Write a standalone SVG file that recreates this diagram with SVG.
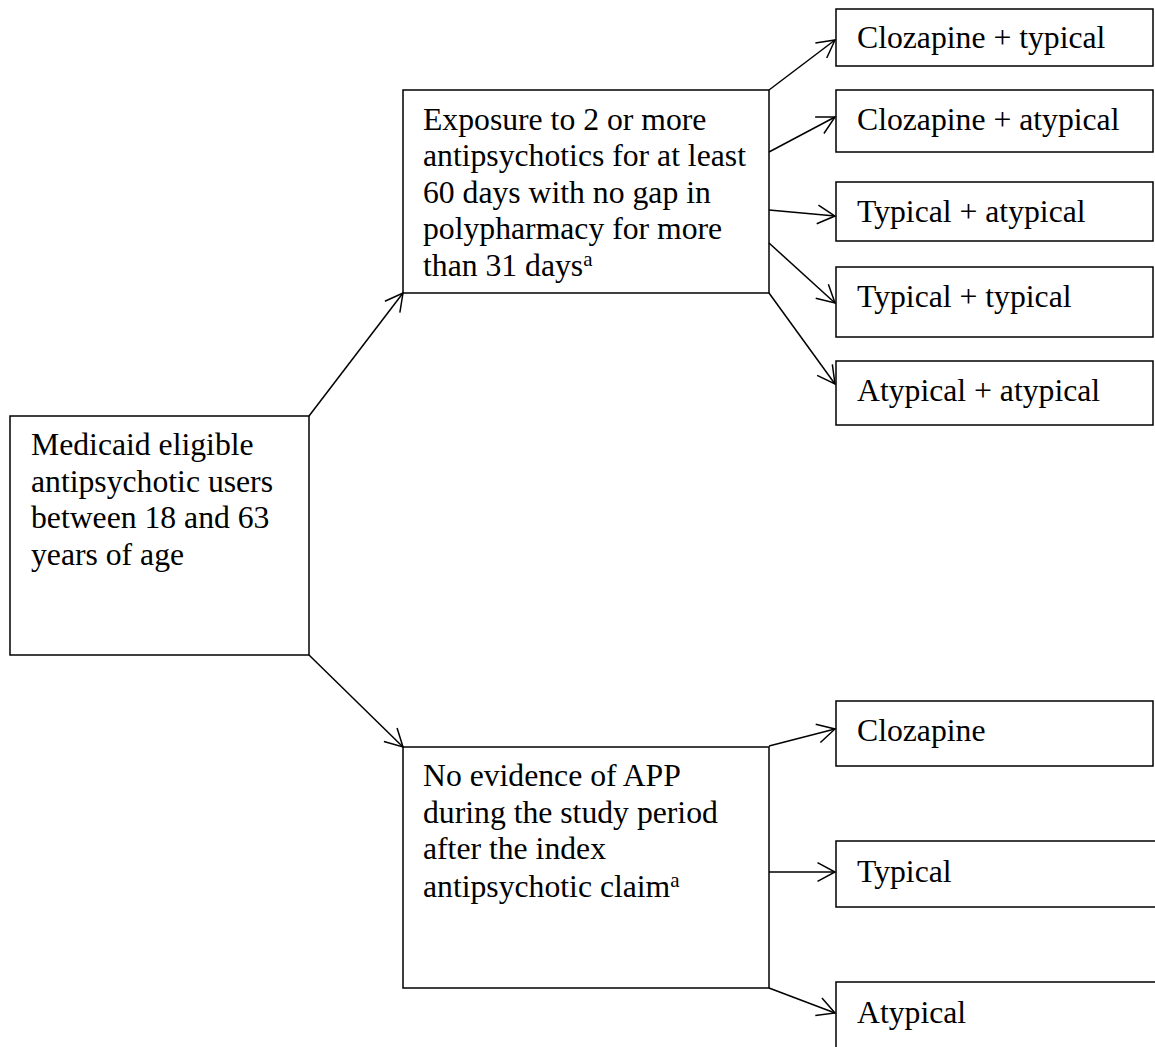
<svg xmlns="http://www.w3.org/2000/svg" width="1155" height="1047" viewBox="0 0 1155 1047">
<style>
  .box { fill: #fff; stroke: #000; stroke-width: 1.5; }
  .t { font-family: "Liberation Serif", "Times New Roman", serif; font-size: 31.7px; fill: #000; }
  .sup { font-size: 21px; }
  .conn line { stroke: #000; stroke-width: 1.5; fill: none; marker-end: url(#arr); }
</style>
<defs>
  <marker id="arr" markerUnits="userSpaceOnUse" markerWidth="30" markerHeight="30" refX="0" refY="0" viewBox="-20 -15 25 30" orient="auto" overflow="visible">
    <path d="M -17.5 -9.4 L 0 0 L -17.5 9.4" fill="none" stroke="#000" stroke-width="1.5"/>
  </marker>
</defs>
<rect width="1155" height="1047" fill="#fff"/>

<g id="n-root">
  <rect class="box" x="10" y="416" width="299" height="239"/>
  <text class="t" x="31" y="455">Medicaid eligible</text>
  <text class="t" x="31" y="492">antipsychotic users</text>
  <text class="t" x="31" y="528">between 18 and 63</text>
  <text class="t" x="31" y="565">years of age</text>
</g>

<g id="n-app">
  <rect class="box" x="403" y="90" width="366" height="203"/>
  <text class="t" x="423" y="130">Exposure to 2 or more</text>
  <text class="t" x="423" y="166">antipsychotics for at least</text>
  <text class="t" x="423" y="203">60 days with no gap in</text>
  <text class="t" x="423" y="239">polypharmacy for more</text>
  <text class="t" x="423" y="276">than 31 days<tspan class="sup" dy="-10">a</tspan></text>
</g>

<g id="n-noapp">
  <rect class="box" x="403" y="747" width="366" height="241"/>
  <text class="t" x="423" y="786">No evidence of APP</text>
  <text class="t" x="423" y="823">during the study period</text>
  <text class="t" x="423" y="859">after the index</text>
  <text class="t" x="423" y="897">antipsychotic claim<tspan class="sup" dy="-10">a</tspan></text>
</g>

<g id="n-cloz-typ">
  <rect class="box" x="836" y="9" width="317" height="57"/>
  <text class="t" x="857" y="48">Clozapine + typical</text>
</g>
<g id="n-cloz-atyp">
  <rect class="box" x="836" y="90" width="317" height="62"/>
  <text class="t" x="857" y="130">Clozapine + atypical</text>
</g>
<g id="n-typ-atyp">
  <rect class="box" x="836" y="182" width="317" height="59"/>
  <text class="t" x="857" y="222">Typical + atypical</text>
</g>
<g id="n-typ-typ">
  <rect class="box" x="836" y="267" width="317" height="70"/>
  <text class="t" x="857" y="307">Typical + typical</text>
</g>
<g id="n-atyp-atyp">
  <rect class="box" x="836" y="361" width="317" height="64"/>
  <text class="t" x="857" y="401">Atypical + atypical</text>
</g>

<g id="n-cloz">
  <rect class="box" x="836" y="701" width="317" height="65"/>
  <text class="t" x="857" y="741">Clozapine</text>
</g>
<g id="n-typ">
  <rect class="box" x="836" y="841" width="330" height="66"/>
  <text class="t" x="857" y="882">Typical</text>
</g>
<g id="n-atyp">
  <rect class="box" x="836" y="982" width="330" height="80"/>
  <text class="t" x="857" y="1023">Atypical</text>
</g>

<g id="connectors" class="conn">
  <line x1="309" y1="416" x2="403" y2="293"/>
  <line x1="309" y1="655" x2="403" y2="747"/>
  <line x1="769" y1="90" x2="835" y2="40"/>
  <line x1="769" y1="152" x2="835" y2="117"/>
  <line x1="769" y1="210" x2="835" y2="216"/>
  <line x1="769" y1="243" x2="835" y2="303"/>
  <line x1="769" y1="293" x2="835" y2="384"/>
  <line x1="769" y1="746" x2="835" y2="729"/>
  <line x1="769" y1="872" x2="835" y2="872"/>
  <line x1="769" y1="988" x2="835" y2="1013"/>
</g>
</svg>
